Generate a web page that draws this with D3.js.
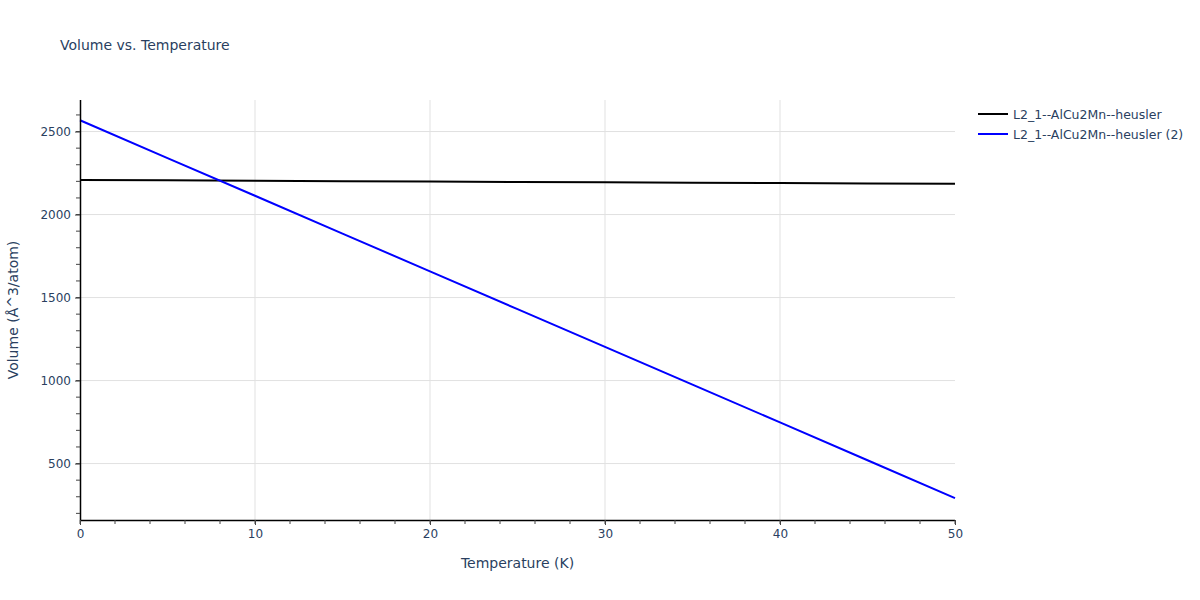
<!DOCTYPE html>
<html>
<head>
<meta charset="utf-8">
<script src="https://cdn.jsdelivr.net/npm/d3@7"></script>
<style>
body { margin: 0; background: #fff; }
text { font-family: "DejaVu Sans", Verdana, sans-serif; fill: #2a3f5f; }
</style>
</head>
<body>
<svg id="chart" width="1200" height="600"></svg>
<script>
const temperature = [0, 5, 10, 15, 20, 25, 30, 35, 40, 45, 50];
const seriesNames = ["L2_1--AlCu2Mn--heusler", "L2_1--AlCu2Mn--heusler (2)"];
const volume1 = [2208, 2206, 2203, 2201, 2199, 2196, 2194, 2192, 2190, 2187, 2185];
const volume2 = [2568, 2340, 2113, 1885, 1658, 1430, 1203, 975, 748, 520, 292];
const seriesColors = ["#000000", "#0000ff"];
const xTicks = [0, 10, 20, 30, 40, 50];
const yTicks = [500, 1000, 1500, 2000, 2500];

const FONT = "'DejaVu Sans', Verdana, sans-serif";
const svg = d3.select("#chart");
const m = { left: 80, right: 245, top: 100, bottom: 80 };
const W = 1200, H = 600;
const x = d3.scaleLinear().domain([0, 50]).range([m.left, W - m.right]);
const y = d3.scaleLinear().domain([160, 2690]).range([H - m.bottom, m.top]);

// grid
svg.append("g").selectAll("line").data(yTicks).join("line")
  .attr("x1", m.left).attr("x2", W - m.right)
  .attr("y1", d => y(d)).attr("y2", d => y(d))
  .attr("stroke", "#e1e1e1").attr("stroke-width", 1);
svg.append("g").selectAll("line").data(xTicks.filter(d => d > 0 && d < 50)).join("line")
  .attr("y1", m.top).attr("y2", H - m.bottom)
  .attr("x1", d => x(d)).attr("x2", d => x(d))
  .attr("stroke", "#e1e1e1").attr("stroke-width", 1);

// lines
const line = d3.line().x((d, i) => x(temperature[i])).y(d => y(d));
[volume1, volume2].forEach((vals, k) => {
  svg.append("path").datum(vals).attr("d", line)
    .attr("fill", "none").attr("stroke", seriesColors[k]).attr("stroke-width", 2);
});

// axes
const xAxis = d3.axisBottom(x).tickValues(xTicks).tickFormat(d3.format("d")).tickSize(5).tickPadding(4);
const gx = svg.append("g").attr("transform", `translate(0,${H - m.bottom})`).call(xAxis);
gx.append("g").selectAll("line").data(d3.range(0, 51, 2)).join("line")
  .attr("x1", d => x(d)).attr("x2", d => x(d)).attr("y1", 0).attr("y2", 4)
  .attr("stroke", "#444");
const yAxis = d3.axisLeft(y).tickValues(yTicks).tickFormat(d3.format("d")).tickSize(5).tickPadding(4);
const gy = svg.append("g").attr("transform", `translate(${m.left},0)`).call(yAxis);
gy.append("g").selectAll("line").data(d3.range(200, 2700, 100)).join("line")
  .attr("y1", d => y(d)).attr("y2", d => y(d)).attr("x1", 0).attr("x2", -4)
  .attr("stroke", "#444");
[gx, gy].forEach(g => {
  g.select(".domain").attr("stroke", "#000").attr("stroke-width", 1.5);
  g.selectAll(".tick line").attr("stroke", "#444");
  g.selectAll(".tick text").attr("font-size", 12).attr("fill", "#2a3f5f").attr("font-family", FONT);
});
gx.select(".domain").attr("d", `M${m.left},0.5H${W - m.right}`);
gy.select(".domain").attr("d", `M0.5,${m.top}V${H - m.bottom}`);

// titles
svg.append("text").attr("x", 60).attr("y", 50).attr("font-size", 14).text("Volume vs. Temperature");
svg.append("text").attr("x", (m.left + W - m.right) / 2).attr("y", 568).attr("text-anchor", "middle")
  .attr("font-size", 14).text("Temperature (K)");
svg.append("text").attr("transform", `translate(18,${(m.top + H - m.bottom) / 2}) rotate(-90)`)
  .attr("text-anchor", "middle").attr("font-size", 14).text("Volume (Å^3/atom)");

// legend
const lg = svg.append("g").attr("transform", "translate(978,114)");
seriesNames.forEach((name, i) => {
  const g = lg.append("g").attr("transform", `translate(0,${i * 20})`);
  g.append("line").attr("x1", 0).attr("x2", 30).attr("y1", 0).attr("y2", 0)
    .attr("stroke", seriesColors[i]).attr("stroke-width", 2);
  g.append("text").attr("x", 35).attr("y", 4.5).attr("font-size", 12.5).text(name);
});
</script>
</body>
</html>
